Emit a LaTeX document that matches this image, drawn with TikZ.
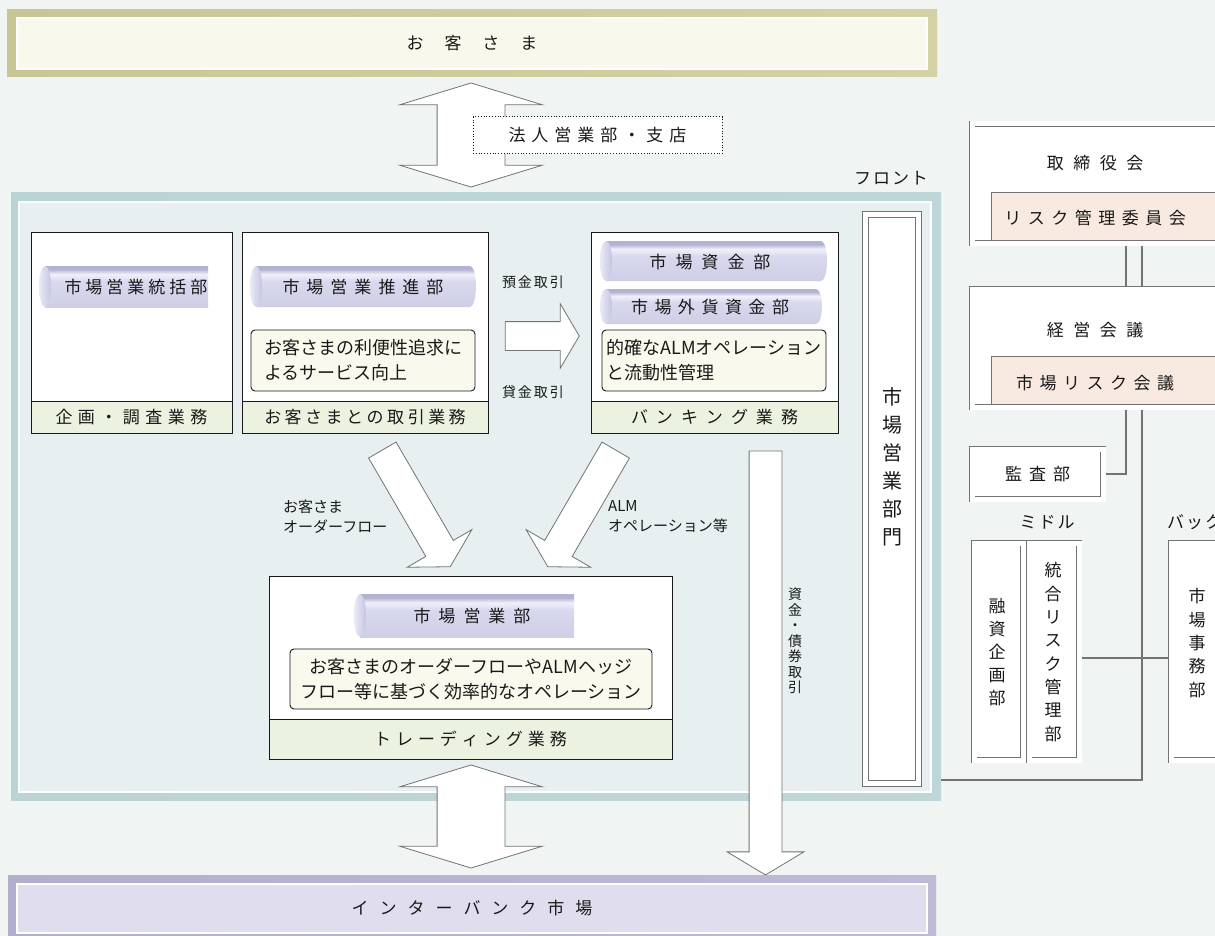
\documentclass[tikz,border=0pt]{standalone}
\usepackage{fontspec}
\setmainfont{Noto Sans CJK JP}
\usetikzlibrary{shapes.arrows}

\definecolor{bgc}{RGB}{240,244,243}
\definecolor{ink}{RGB}{25,25,25}
\definecolor{lineg}{RGB}{115,115,115}
\definecolor{custL}{RGB}{200,197,150}
\definecolor{custM}{RGB}{247,245,228}
\definecolor{custR}{RGB}{212,209,165}
\definecolor{custin}{RGB}{249,248,236}
\definecolor{frmL}{RGB}{186,211,213}
\definecolor{frmM}{RGB}{238,244,244}
\definecolor{frmR}{RGB}{190,214,216}
\definecolor{frmin}{RGB}{231,239,240}
\definecolor{ibL}{RGB}{178,175,204}
\definecolor{ibM}{RGB}{238,237,245}
\definecolor{ibR}{RGB}{190,186,214}
\definecolor{ibin}{RGB}{224,222,238}
\definecolor{bandg}{RGB}{236,242,224}
\definecolor{cream}{RGB}{250,249,238}
\definecolor{pinkband}{RGB}{249,234,225}
\definecolor{cylT}{RGB}{178,178,210}
\definecolor{cylH}{RGB}{240,240,250}
\definecolor{cylM}{RGB}{216,216,238}
\definecolor{cylB}{RGB}{206,206,230}
\definecolor{capL}{RGB}{234,234,247}
\definecolor{capR}{RGB}{196,196,226}

\pgfdeclareverticalshading{cylshade}{100bp}{color(0bp)=(cylB); color(25bp)=(cylB);
  color(56bp)=(cylM); color(65bp)=(cylH); color(71bp)=(cylT); color(75bp)=(cylT); color(100bp)=(cylT)}

% letter-spaced text
\makeatletter
\newcommand\tracked[2]{\def\tr@gap{#1}\tr@next#2\tr@end}
\def\tr@end{\relax}
\def\tr@next#1{#1\@ifnextchar\tr@end{\@gobble}{\hspace{\tr@gap}\tr@next}}
\makeatother

\tikzset{
  txt/.style={font=\fontsize{17pt}{20pt}\selectfont, text=ink, inner sep=0pt},
  small/.style={font=\fontsize{14pt}{17pt}\selectfont, text=ink, inner sep=0pt},
  lbl/.style={font=\fontsize{15pt}{20pt}\selectfont, text=ink, inner sep=0pt},
  vtxt/.style={align=center, text=ink, inner sep=0pt},
  plate/.style={draw=none, inner sep=0pt},
  inlay/.style={draw=white, line width=1.5pt, inner sep=0pt, txt},
  unit/.style={draw=ink, line width=0.9pt, fill=white, inner sep=0pt},
  unitband/.style={draw=ink, line width=0.9pt, fill=bandg, inner sep=0pt, txt},
  desc/.style={draw=ink, line width=0.9pt, fill=cream, rounded corners=4pt, inner sep=0pt,
    font=\fontsize{18pt}{25pt}\selectfont, text=ink},
  org/.style={draw=lineg, double=white, double distance=5pt, line width=0.9pt, fill=white, inner sep=0pt},
  orgband/.style={draw=lineg, line width=0.9pt, fill=pinkband, inner sep=0pt},
  link/.style={draw=lineg, line width=1.3pt},
  fat/.style={draw=lineg, fill=white, line width=0.8pt, inner xsep=0pt}
}

\begin{document}
\begin{tikzpicture}[x=1pt,y=-1pt]
  \useasboundingbox[fill=bgc] (0,0) rectangle (1215,936);

  % customers and interbank market
  \node[plate, left color=custL, middle color=custM, right color=custR,
        minimum width=930, minimum height=67] (cust) at (472,43.5) {};
  \node[inlay, fill=custin, minimum width=910, minimum height=51] (custin) at (472,43.5) {\tracked{21pt}{お客さま}};
  \node[plate, left color=ibL, middle color=ibM, right color=ibR,
        minimum width=928, minimum height=66] (ib) at (472,908) {};
  \node[inlay, fill=ibin, minimum width=910, minimum height=49] (ibin) at (472,908.5) {\tracked{11pt}{インターバンク市場}};

  % markets division frame
  \node[plate, left color=frmL, middle color=frmM, right color=frmR,
        minimum width=930, minimum height=607] (mkt) at (476,496.5) {};
  \node[inlay, fill=frmin, minimum width=912, minimum height=590] (mktin) at (475,497) {};
  \node[txt] (front) at (891,178) {\tracked{2pt}{フロント}};
  \node[org, minimum width=53, minimum height=569] (div) at (892,499) {};
  \node[vtxt, font=\fontsize{20pt}{28pt}\selectfont] (divtxt) at (892,467) {市\\場\\営\\業\\部\\門};

  % business units
  \node[unit, minimum width=201, minimum height=201] (plan) at (131.5,332.5) {};
  \node[unitband, minimum width=201, minimum height=32] (planb) at (131.5,417) {\tracked{5.5pt}{企画・調査業務}};
  \node[unit, minimum width=246, minimum height=201] (sales) at (365,332.5) {};
  \node[unitband, minimum width=246, minimum height=32] (salesb) at (365,417) {\tracked{3.5pt}{お客さまとの取引業務}};
  \node[unit, minimum width=247, minimum height=201] (bank) at (714.5,332.5) {};
  \node[unitband, minimum width=247, minimum height=32] (bankb) at (714.5,417) {\tracked{8pt}{バンキング業務}};
  \node[unit, minimum width=403, minimum height=183] (trade) at (470.5,667.5) {};
  \node[unitband, minimum width=403, minimum height=40] (tradeb) at (470.5,739) {\tracked{5pt}{トレーディング業務}};

  % department cylinders
  \foreach \xa/\xb/\ym/\r in {250/476/286.5/20.5, 600/827/261/20, 600/822/306.5/17.5} {
    \shade[shading=cylshade] (\xa+6,\ym-\r) -- (\xb-6,\ym-\r)
      arc[start angle=90, end angle=-90, x radius=6pt, y radius=\r*1pt] -- (\xa+6,\ym+\r) -- cycle;
    \shade[left color=capL, right color=capR] (\xa+6,\ym) ellipse[x radius=6pt, y radius=\r*1pt];
  }
  \foreach \xa/\xb/\ym/\r in {39/208/286.5/20.5, 354/574/615.5/21.5} {
    \shade[shading=cylshade] (\xa+6,\ym-\r) rectangle (\xb,\ym+\r);
    \shade[left color=capL, right color=capR] (\xa+6,\ym) ellipse[x radius=6pt, y radius=\r*1pt];
  }
  \node[txt] (hq) at (136,287) {\tracked{4pt}{市場営業統括部}};
  \node[txt] (promo) at (363,287) {\tracked{7pt}{市場営業推進部}};
  \node[txt] (fund) at (710,262) {\tracked{9pt}{市場資金部}};
  \node[txt] (fxfund) at (710,307) {\tracked{6.5pt}{市場外貨資金部}};
  \node[txt] (desk) at (472,616) {\tracked{8pt}{市場営業部}};

  % missions
  \node[desc, minimum width=224, minimum height=61, align=left] (promod) at (363,360.5) {お客さまの利便性追求に\\よるサービス向上};
  \node[desc, minimum width=224, minimum height=61, align=left] (fundd) at (714,360.5) {的確なALMオペレーション\\と流動性管理};
  \node[desc, minimum width=362, minimum height=60, align=center] (deskd) at (471,679) {お客さまのオーダーフローやALMヘッジ\\フロー等に基づく効率的なオペレーション};

  % flows (shaft = 2 x inner ysep)
  \node[fat, double arrow, rotate=90, minimum height=104, inner ysep=33.5,
        double arrow head extend=37.5, double arrow tip angle=146] (toparr) at (471,135) {};
  \node[fat, double arrow, rotate=90, minimum height=103, inner ysep=33.5,
        double arrow head extend=37.5, double arrow tip angle=146] (botarr) at (471,816.5) {};
  \node[fat, single arrow, minimum height=74, inner ysep=14,
        single arrow head extend=18, single arrow tip angle=119] (loanarr) at (538,336) {};
  \node[fat, single arrow, rotate=-59.8, minimum height=135, inner ysep=15.5,
        single arrow head extend=21.5, single arrow tip angle=121] (orderarr) at (414,504.5) {};
  \node[fat, single arrow, rotate=-120.2, minimum height=135, inner ysep=15.5,
        single arrow head extend=21.5, single arrow tip angle=121] (almarr) at (584,504.5) {};
  \node[fat, single arrow, rotate=-90, minimum height=424, inner ysep=16,
        single arrow head extend=22, single arrow tip angle=118] (bondarr) at (765.5,658) {};
  \node[fat, draw=ink, dotted, line width=1pt, minimum width=249, minimum height=37, txt] (branch) at (597.5,135.5) {\tracked{6pt}{法人営業部・支店}};

  % flow labels
  \node[small] (depo) at (533,282) {\tracked{2pt}{預金取引}};
  \node[small] (lend) at (533,392) {\tracked{2pt}{貸金取引}};
  \node[lbl, anchor=west, align=left] (orderlbl) at (283,517) {お客さま\\オーダーフロー};
  \node[lbl, anchor=west, align=left] (almlbl) at (608,517) {ALM\\オペレーション等};
  \node[vtxt, font=\fontsize{14pt}{15.5pt}\selectfont] (bondlbl) at (795,641) {資\\金\\・\\債\\券\\取\\引};

  % risk governance
  \node[org, minimum width=275, minimum height=119] (board) at (1109.5,183.5) {};
  \node[orgband, minimum width=269, minimum height=48] (boardr) at (1125.5,216) {};
  \node[txt] (boardtxt) at (1095,163) {\tracked{9.5pt}{取締役会}};
  \node[txt] (boardrtxt) at (1095,218) {\tracked{6.5pt}{リスク管理委員会}};
  \node[org, minimum width=275, minimum height=118] (mgmt) at (1109.5,348) {};
  \node[orgband, minimum width=269, minimum height=48] (mgmtr) at (1125.5,380) {};
  \node[txt] (mgmttxt) at (1095,330) {\tracked{9.5pt}{経営会議}};
  \node[txt] (mgmtrtxt) at (1095,383) {\tracked{6.5pt}{市場リスク会議}};
  \node[org, txt, minimum width=131, minimum height=50] (audit) at (1037.5,474) {\tracked{7pt}{監査部}};
  \node[txt] (middle) at (1047,522) {\tracked{2pt}{ミドル}};
  \node[txt, anchor=west] (back) at (1167,522) {\tracked{2pt}{バック}};
  \node[org, minimum width=49, minimum height=217] (loan) at (998.5,651.5) {};
  \node[org, minimum width=50, minimum height=217] (irm) at (1054,651.5) {};
  \node[org, minimum width=86, minimum height=217] (ops) at (1214,651.5) {};
  \node[vtxt, font=\fontsize{17pt}{23pt}\selectfont] (loantxt) at (997,652) {融\\資\\企\\画\\部};
  \node[vtxt, font=\fontsize{17pt}{23.3pt}\selectfont] (irmtxt) at (1053,652) {統\\合\\リ\\ス\\ク\\管\\理\\部};
  \node[vtxt, font=\fontsize{17pt}{23.3pt}\selectfont] (opstxt) at (1197,643) {市\\場\\事\\務\\部};
  \coordinate (frametie) at (941,780);

  \draw[link] ([xshift=16.5pt,yshift=-3pt]board.south) -- ([xshift=16.5pt,yshift=3pt]mgmt.north);
  \draw[link] ([xshift=32.5pt,yshift=-3pt]board.south) -- ([xshift=32.5pt,yshift=3pt]mgmt.north);
  \draw[link] ([xshift=16.5pt,yshift=-3pt]mgmt.south) |- ([xshift=3pt]audit.east);
  \draw[link] ([xshift=32.5pt,yshift=-3pt]mgmt.south) |- (frametie);
  \draw[link] ([xshift=3pt,yshift=-6.5pt]irm.east) -- ([xshift=-3pt,yshift=-6.5pt]ops.west);
\end{tikzpicture}
\end{document}
